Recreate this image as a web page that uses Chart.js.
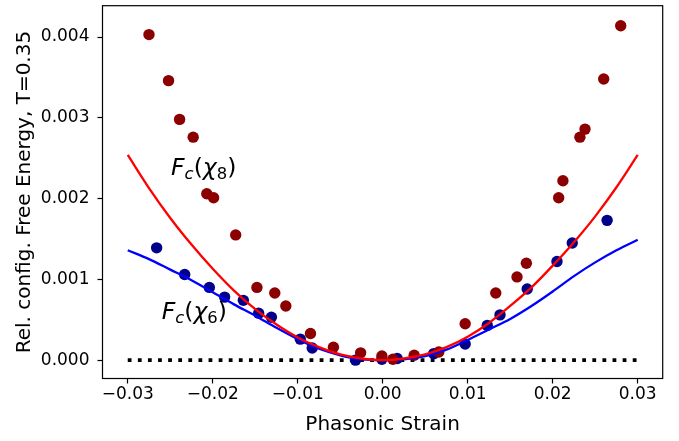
<!DOCTYPE html>
<html>
<head>
<meta charset="utf-8">
<title>Phasonic strain free energy</title>
<script src="https://cdn.jsdelivr.net/npm/chart.js@4.4.1/dist/chart.umd.min.js"></script>
<style>
  html, body { margin: 0; padding: 0; background: #fff; }
  canvas { display: block; }
</style>
</head>
<body>
<canvas id="energyChart" width="679" height="441"></canvas>
<script>
// Simulation points, chi_8 configurations
const chi8Strain = [-0.0275, -0.0252, -0.0239, -0.0223, -0.0207, -0.0199, -0.0173, -0.0148, -0.0127, -0.0114,
  -0.0085, -0.0058, -0.0026, -0.0001, 0.0012, 0.0037, 0.0066, 0.0097, 0.0133, 0.0158,
  0.0169, 0.0207, 0.0212, 0.0232, 0.0238, 0.0260, 0.0280]
const chi8Energy = [0.00403, 0.00346, 0.00298, 0.00276, 0.00206, 0.00201, 0.00155, 0.00090, 0.00083, 0.00067,
  0.00033, 0.00016, 0.00009, 0.00005, 0.00001, 0.00006, 0.00010, 0.00045, 0.00083, 0.00103,
  0.00120, 0.00201, 0.00222, 0.00276, 0.00286, 0.00348, 0.00414]

// Simulation points, chi_6 configurations
const chi6Strain = [-0.0266, -0.0233, -0.0204, -0.0186, -0.0164, -0.0146, -0.0131, -0.0097, -0.0083, -0.0032,
  -0.0001, 0.0017, 0.0060, 0.0097, 0.0123, 0.0138, 0.0170, 0.0205, 0.0223, 0.0264]
const chi6Energy = [0.00139, 0.00106, 0.00090, 0.00078, 0.00074, 0.00058, 0.00053, 0.00026, 0.00015, 0.00000,
  0.00001, 0.00002, 0.00008, 0.00020, 0.00043, 0.00056, 0.00088, 0.00122, 0.00145, 0.00173]

// Model curves F_c(chi_8) and F_c(chi_6)
const curveStrain = [-0.03, -0.0275, -0.025, -0.0225, -0.02, -0.0175, -0.015, -0.0125, -0.01, -0.0075,
  -0.005, -0.0025, 0, 0.0025, 0.005, 0.0075, 0.01, 0.0125, 0.015, 0.0175,
  0.02, 0.0225, 0.025, 0.0275, 0.03]
const curveChi8 = [0.00254, 0.00213, 0.00176, 0.00143, 0.00113, 0.00086, 0.00063, 0.00044, 0.00028, 0.00016,
  0.00007, 0.00002, 0.0, 0.00002, 0.00007, 0.00016, 0.00029, 0.00046, 0.00067, 0.00090,
  0.00117, 0.00146, 0.00178, 0.00214, 0.00254]
const curveChi6 = [0.00136, 0.00125, 0.00112, 0.00099, 0.00084, 0.00069, 0.00055, 0.00040, 0.00026, 0.00014,
  0.00006, 0.00001, 0.0, 0.00001, 0.00005, 0.00013, 0.00025, 0.00038, 0.00051, 0.00067,
  0.00085, 0.00104, 0.00121, 0.00136, 0.00149]

const zeroStrain = [-0.03, 0.03]
const zeroEnergy = [0, 0]

const xTickValues = [-0.03, -0.02, -0.01, 0, 0.01, 0.02, 0.03]
const yTickValues = [0, 0.001, 0.002, 0.003, 0.004]

const curveLabels = [
  { x: -0.0249, y: 0.00229, sub: "8" },
  { x: -0.0260, y: 0.00051, sub: "6" },
]

const FONT = "DejaVu Sans"

function toPoints(xs, ys) {
  return xs.map((x, i) => ({ x: x, y: ys[i] }))
}

function minus(str) {
  return str.replace("-", "\u2212")
}

// F_c(chi_n) written out piece by piece like math text
function drawMathLabel(ctx, x, y, sub, size) {
  const parts = [
    { text: "F", italic: true },
    { text: "c", italic: true, sub: true },
    { text: "(" },
    { text: "\u03c7", italic: true },
    { text: sub, sub: true },
    { text: ")" },
  ]
  let cx = x
  parts.forEach((p) => {
    const s = p.sub ? size * 0.7 : size
    ctx.font = `${p.italic ? "italic " : ""}${s}px "${FONT}"`
    ctx.fillText(p.text, cx, y + (p.sub ? size * 0.18 : 0))
    cx += ctx.measureText(p.text).width
  })
}

const framePlugin = {
  id: "frame",
  afterDatasetsDraw(chart) {
    const { ctx, chartArea: a, scales } = chart
    ctx.save()
    ctx.strokeStyle = "#000"
    ctx.lineWidth = 1.2
    ctx.strokeRect(a.left, a.top, a.right - a.left, a.bottom - a.top)

    ctx.fillStyle = "#000"
    ctx.textBaseline = "alphabetic"
    ctx.textAlign = "left"
    curveLabels.forEach((lab) => {
      drawMathLabel(ctx, scales.x.getPixelForValue(lab.x), scales.y.getPixelForValue(lab.y), lab.sub, 23.5)
    })
    ctx.restore()
  },
}

new Chart(document.getElementById("energyChart"), {
  type: "scatter",
  data: {
    datasets: [
      {
        data: toPoints(curveStrain, curveChi8),
        showLine: true,
        borderColor: "#ff0000",
        borderWidth: 2.3,
        pointRadius: 0,
        cubicInterpolationMode: "monotone",
        order: 0,
      },
      {
        data: toPoints(curveStrain, curveChi6),
        showLine: true,
        borderColor: "#0000ff",
        borderWidth: 2.3,
        pointRadius: 0,
        cubicInterpolationMode: "monotone",
        order: 1,
      },
      {
        data: toPoints(chi8Strain, chi8Energy),
        backgroundColor: "#8b0000",
        borderWidth: 0,
        pointRadius: 5.7,
        order: 2,
      },
      {
        data: toPoints(chi6Strain, chi6Energy),
        backgroundColor: "#00008b",
        borderWidth: 0,
        pointRadius: 5.7,
        order: 3,
      },
      {
        data: toPoints(zeroStrain, zeroEnergy),
        showLine: true,
        borderColor: "#000",
        borderWidth: 3.8,
        borderDash: [3.8, 6.3],
        pointRadius: 0,
        order: 4,
      },
    ],
  },
  options: {
    responsive: false,
    animation: false,
    devicePixelRatio: 1,
    layout: { padding: { left: 0, top: 3.5, right: 16.3, bottom: 0 } },
    plugins: {
      legend: { display: false },
      tooltip: { enabled: false },
    },
    scales: {
      x: {
        type: "linear",
        min: -0.03297,
        max: 0.03294,
        afterBuildTicks: (scale) => {
          scale.ticks = xTickValues.map((value) => ({ value }))
        },
        afterFit: (scale) => {
          scale.height = 62.5
          scale.paddingLeft = 0
          scale.paddingRight = 0
        },
        border: { display: false },
        grid: {
          drawOnChartArea: false,
          drawTicks: true,
          tickLength: 5,
          tickColor: "#000",
          tickWidth: 1.2,
        },
        ticks: {
          color: "#000",
          padding: 3,
          maxRotation: 0,
          font: { family: FONT, size: 17, lineHeight: 1 },
          callback: (v) => minus(Number(v).toFixed(2)),
        },
        title: {
          display: true,
          text: "Phasonic Strain",
          color: "#000",
          font: { family: FONT, size: 20, lineHeight: 1.2 },
          padding: { top: 0, bottom: 4 },
        },
      },
      y: {
        type: "linear",
        min: -0.0002277,
        max: 0.0043877,
        afterBuildTicks: (scale) => {
          scale.ticks = yTickValues.map((value) => ({ value }))
        },
        afterFit: (scale) => {
          scale.width = 102.5
          scale.paddingTop = 0
          scale.paddingBottom = 0
        },
        border: { display: false },
        grid: {
          drawOnChartArea: false,
          drawTicks: true,
          tickLength: 5,
          tickColor: "#000",
          tickWidth: 1.2,
        },
        ticks: {
          color: "#000",
          padding: 8,
          font: { family: FONT, size: 17 },
          callback: (v) => Number(v).toFixed(3),
        },
        title: {
          display: true,
          text: "Rel. config. Free Energy, T=0.35",
          color: "#000",
          font: { family: FONT, size: 20, lineHeight: 1.2 },
          padding: { top: 12.5, bottom: 0 },
        },
      },
    },
  },
  plugins: [framePlugin],
})
</script>
</body>
</html>
